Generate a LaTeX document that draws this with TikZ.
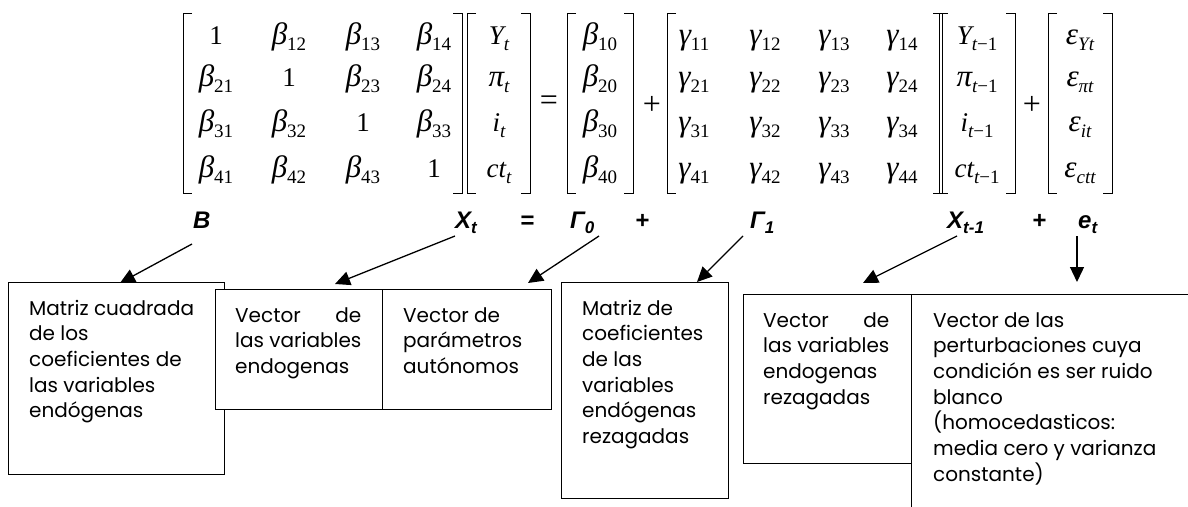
\documentclass[tikz,border=0pt]{standalone}
\usepackage{calc}
\usepackage{fontspec}
\newfontfamily\boxfont{Poppins}
\newfontfamily\labfont{Liberation Sans}
\newfontfamily\tms{Liberation Serif}
\usetikzlibrary{arrows.meta}
\newcommand\gk[1]{{\fontsize{31}{31}\selectfont\itshape #1}}
\newcommand\sbx[1]{\raisebox{-6pt}{\fontsize{19}{19}\selectfont #1}}
\newcommand\lsub[1]{\raisebox{-5pt}{\fontsize{17}{17}\selectfont #1}}
\tikzset{
 boxshape/.style={draw, line width=1.2pt, fill=white, inner sep=0pt, anchor=north west},
 boxtext/.style={anchor=north west, inner sep=0pt, align=left, font=\boxfont\fontsize{20}{25.7}\selectfont},
 lab/.style={anchor=base west, inner sep=0pt, font=\labfont\bfseries\itshape\fontsize{24}{28}\selectfont},
 ent/.style={anchor=base, inner sep=0pt, font=\tms\fontsize{27}{30}\selectfont},
 op/.style={anchor=center, inner sep=0pt, font=\tms\fontsize{32}{34}\selectfont},
 brk/.style={line width=1pt},
 arr/.style={line width=1.3pt, -{Triangle[length=15pt,width=14pt]}},
}
\newcommand\bracks[2]{%
  \draw[brk] (#1+9,13) -- (#1,13) -- (#1,193) -- (#1+9,193);
  \draw[brk] (#2-9,13) -- (#2,13) -- (#2,193) -- (#2-9,193);}
\begin{document}
\begin{tikzpicture}[x=1pt,y=-1pt]
\useasboundingbox (0,0) rectangle (1188,506);
\clip (0,0) rectangle (1188,506);
% ---- equation ----
\bracks{183}{462}
\foreach \c/\x/\e in {1/216/1, 2/289/\gk{β}\sbx{12}, 3/363/\gk{β}\sbx{13}, 4/434/\gk{β}\sbx{14}}
  \node[ent] (ba1\c) at (\x,44) {\e};
\foreach \c/\x/\e in {1/216/\gk{β}\sbx{21}, 2/289/1, 3/363/\gk{β}\sbx{23}, 4/434/\gk{β}\sbx{24}}
  \node[ent] (ba2\c) at (\x,86) {\e};
\foreach \c/\x/\e in {1/216/\gk{β}\sbx{31}, 2/289/\gk{β}\sbx{32}, 3/363/1, 4/434/\gk{β}\sbx{33}}
  \node[ent] (ba3\c) at (\x,131) {\e};
\foreach \c/\x/\e in {1/216/\gk{β}\sbx{41}, 2/289/\gk{β}\sbx{42}, 3/363/\gk{β}\sbx{43}, 4/434/1}
  \node[ent] (ba4\c) at (\x,177) {\e};
\bracks{467}{530}
\node[ent] (y1) at (499,44) {\itshape Y\sbx{t}};
\node[ent] (y2) at (499,86) {\gk{π}\sbx{\itshape t}};
\node[ent] (y3) at (499,131) {\itshape i\sbx{t}};
\node[ent] (y4) at (499,177) {\itshape ct\sbx{t}};
\node[op] (eq) at (549,103) {=};
\bracks{567}{633}
\node[ent] (c1) at (600,44) {\gk{β}\sbx{10}};
\node[ent] (c2) at (600,86) {\gk{β}\sbx{20}};
\node[ent] (c3) at (600,131) {\gk{β}\sbx{30}};
\node[ent] (c4) at (600,177) {\gk{β}\sbx{40}};
\node[op] (pl1) at (652,105) {+};
\bracks{667}{942}
\foreach \r/\y in {1/44,2/86,3/131,4/177}
  \foreach \c/\x in {1/694,2/765,3/834,4/902}
    \node[ent] (g\r\c) at (\x,\y) {\gk{γ}\sbx{\r\c}};
\bracks{939}{1015}
\node[ent] (x1) at (977,44) {\itshape Y\sbx{t\upshape −1}};
\node[ent] (x2) at (977,86) {\gk{π}\sbx{\itshape t\upshape −1}};
\node[ent] (x3) at (977,131) {\itshape i\sbx{t\upshape −1}};
\node[ent] (x4) at (977,177) {\itshape ct\sbx{t\upshape −1}};
\node[op] (pl2) at (1032,105) {+};
\bracks{1048}{1112}
\node[ent] (e1) at (1080,44) {\gk{ε}\sbx{\itshape Yt}};
\node[ent] (e2) at (1080,86) {\gk{ε}\sbx{\itshape πt}};
\node[ent] (e3) at (1080,131) {\gk{ε}\sbx{\itshape it}};
\node[ent] (e4) at (1080,177) {\gk{ε}\sbx{\itshape ctt}};
% ---- labels ----
\node[lab] (lB) at (193,228) {B};
\node[lab] (lX) at (455,228) {X\lsub{t}};
\node[lab] (lEq) at (520,228) {=};
\node[lab] (lG0) at (570,228) {Γ\lsub{0}};
\node[lab] (lP1) at (635,228) {+};
\node[lab] (lG1) at (750,228) {Γ\lsub{1}};
\node[lab] (lX1) at (947,228) {X\lsub{t-1}};
\node[lab] (lP2) at (1032,228) {+};
\node[lab] (lE) at (1078,228) {e\lsub{t}};
% ---- boxes ----
\node[boxshape, minimum width=216pt, minimum height=192pt] (bx1) at (8,282) {};
\node[boxshape, minimum width=167pt, minimum height=120pt] (bx2) at (215,289) {};
\node[boxshape, minimum width=169pt, minimum height=120pt] (bx3) at (382,289) {};
\node[boxshape, minimum width=167pt, minimum height=216pt] (bx4) at (561,282) {};
\node[boxshape, minimum width=168pt, minimum height=169pt] (bx5) at (743,294) {};
\node[boxshape, minimum width=300pt, minimum height=240pt] (bx6) at (911,294) {};
\node[boxtext] (tx1) at ([xshift=21pt,yshift=-15pt]bx1.north west)
  {\strut Matriz cuadrada\\de los\\coeficientes de\\las variables\\endógenas};
\node[boxtext] (tx2) at ([xshift=20pt,yshift=-15pt]bx2.north west)
  {\strut\makebox[\widthof{las variables}][s]{Vector de}\\las variables\\endogenas};
\node[boxtext] (tx3) at ([xshift=21pt,yshift=-15pt]bx3.north west)
  {\strut Vector de\\parámetros\\autónomos};
\node[boxtext] (tx4) at ([xshift=21pt,yshift=-15pt]bx4.north west)
  {\strut Matriz de\\coeficientes\\de las\\variables\\endógenas\\rezagadas};
\node[boxtext] (tx5) at ([xshift=20pt,yshift=-15pt]bx5.north west)
  {\strut\makebox[\widthof{las variables}][s]{Vector de}\\las variables\\endogenas\\rezagadas};
\node[boxtext] (tx6) at ([xshift=22pt,yshift=-15pt]bx6.north west)
  {\strut Vector de las\\perturbaciones cuya\\condición es ser ruido\\blanco\\(homocedasticos:\\media cero y varianza\\constante)};
% ---- arrows ----
\coordinate (s1) at (192,244); \coordinate (t1) at (120,283);
\coordinate (s2) at (455,236); \coordinate (t2) at (335,284);
\coordinate (s3) at (599,236); \coordinate (t3) at (528,283);
\coordinate (s4) at (743,236); \coordinate (t4) at (697,282);
\coordinate (s5) at (957,236); \coordinate (t5) at (863,283);
\coordinate (s6) at (1077,236); \coordinate (t6) at (1077,282);
\foreach \i in {1,...,6} \draw[arr] (s\i) -- (t\i);
\end{tikzpicture}
\end{document}
